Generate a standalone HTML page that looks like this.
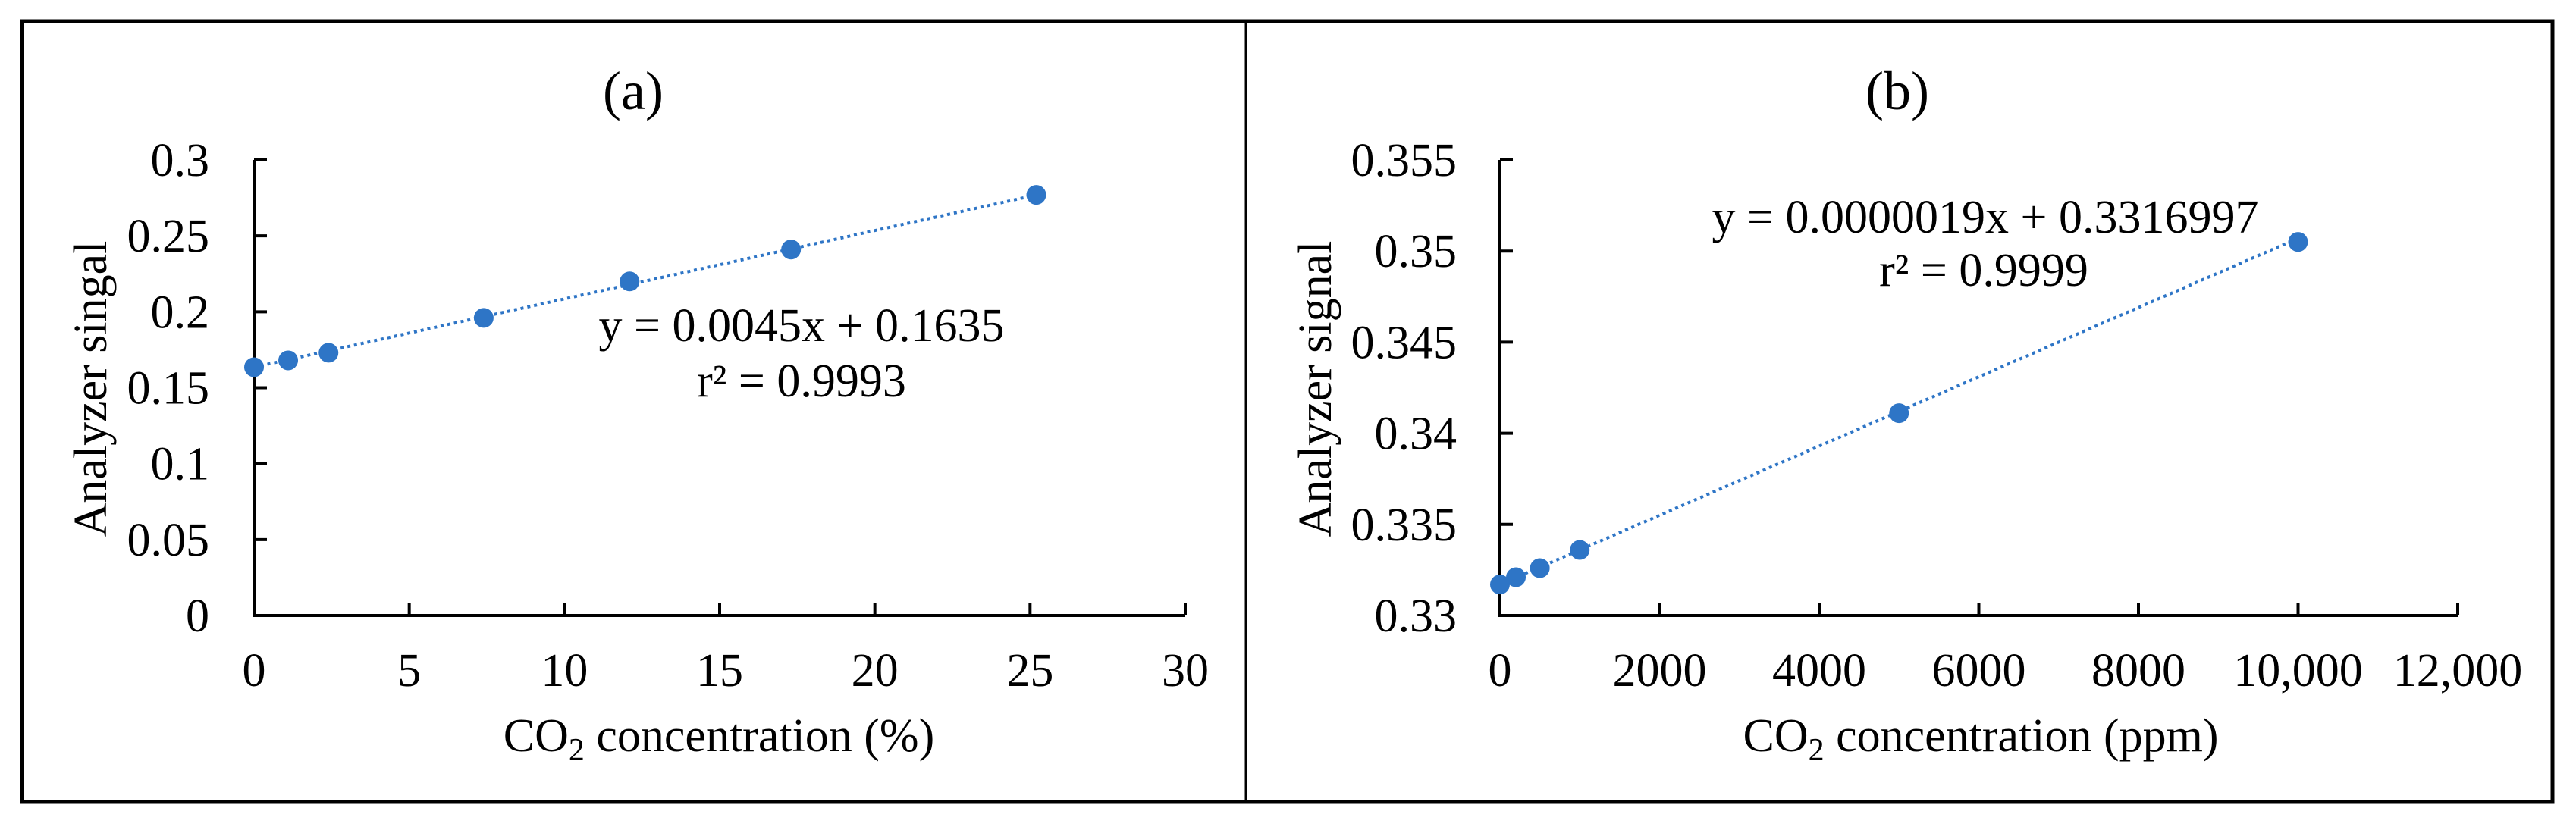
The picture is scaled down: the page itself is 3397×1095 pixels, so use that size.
<!DOCTYPE html>
<html><head><meta charset="utf-8"><style>
html,body{margin:0;padding:0;background:#fff;}
svg{display:block;font-family:"Liberation Serif",serif;}
</style></head><body>
<svg id="fig" width="3397" height="1095" viewBox="0 0 3397 1095" xmlns="http://www.w3.org/2000/svg">
<rect x="29" y="28" width="3337" height="1030" fill="none" stroke="#000" stroke-width="5"/>
<line x1="1643" y1="28" x2="1643" y2="1058" stroke="#000" stroke-width="3"/>
<g id="pa"></g>
<g id="pb"></g>
<g font-family="Liberation Serif, serif" fill="#000">
<text x="835" y="144" text-anchor="middle" font-size="72">(a)</text>
<text x="2502" y="144" text-anchor="middle" font-size="72">(b)</text>
<text x="948" y="991" text-anchor="middle" font-size="62">CO<tspan font-size="42" dy="12">2</tspan><tspan dy="-12"> concentration (%)</tspan></text>
<text x="2612" y="991" text-anchor="middle" font-size="62">CO<tspan font-size="42" dy="12">2</tspan><tspan dy="-12"> concentration (ppm)</tspan></text>
<text transform="translate(140,513) rotate(-90)" text-anchor="middle" font-size="62">Analyzer singal</text>
<text transform="translate(1755,513) rotate(-90)" text-anchor="middle" font-size="62">Analyzer signal</text>
<text x="1057" y="450" text-anchor="middle" font-size="62">y = 0.0045x + 0.1635</text>
<text x="1057" y="523" text-anchor="middle" font-size="62">r² = 0.9993</text>
<text x="2618" y="307" text-anchor="middle" font-size="62">y = 0.0000019x + 0.3316997</text>
<text x="2616" y="377" text-anchor="middle" font-size="62">r² = 0.9999</text>
</g>
</svg>
<script>
const aX = [0, 1.1, 2.4, 7.4, 12.1, 17.3, 25.2];
const aY = [0.1635, 0.168, 0.173, 0.196, 0.220, 0.241, 0.277];
const aXTicks = [0, 5, 10, 15, 20, 25, 30];
const aXTickLabels = ["0","5","10","15","20","25","30"];
const aYTicks = [0, 0.05, 0.1, 0.15, 0.2, 0.25, 0.3];
const aYTickLabels = ["0","0.05","0.1","0.15","0.2","0.25","0.3"];
const aFit = [0.0045, 0.1635];

const bX = [0, 200, 500, 1000, 5000, 10000];
const bY = [0.3317, 0.3321, 0.3326, 0.3336, 0.3411, 0.3505];
const bXTicks = [0, 2000, 4000, 6000, 8000, 10000, 12000];
const bXTickLabels = ["0","2000","4000","6000","8000","10,000","12,000"];
const bYTicks = [0.33, 0.335, 0.34, 0.345, 0.35, 0.355];
const bYTickLabels = ["0.33","0.335","0.34","0.345","0.35","0.355"];
const bFit = [0.0000019, 0.3316997];

const NS = "http://www.w3.org/2000/svg";
function mk(parent, tag, attrs, text){
  const e = document.createElementNS(NS, tag);
  for (const k in attrs) e.setAttribute(k, attrs[k]);
  if (text !== undefined) e.textContent = text;
  parent.appendChild(e);
  return e;
}
function drawPanel(g, cfg){
  const sx = v => cfg.x0 + (v - cfg.xmin) / (cfg.xmax - cfg.xmin) * (cfg.x1 - cfg.x0);
  const sy = v => cfg.y0 - (v - cfg.ymin) / (cfg.ymax - cfg.ymin) * (cfg.y0 - cfg.y1);
  const ax = mk(g, "path", {d:`M${cfg.x0},${cfg.y1} V${cfg.y0} H${cfg.x1}`, fill:"none", stroke:"#000", "stroke-width":4});
  
  
  cfg.yt.forEach((v,i)=>{
    const y = sy(v);
    const t = mk(g, "line", {x1:cfg.x0, y1:y, x2:cfg.x0+17, y2:y, stroke:"#000", "stroke-width":4});
    
    
    const l = mk(g, "text", {x:cfg.ylabX, y:y+21, "text-anchor":"end", "font-size":62}, cfg.ytl[i]);
    
    
  });
  cfg.xt.forEach((v,i)=>{
    const x = sx(v);
    if (i>0){
      const t = mk(g, "line", {x1:x, y1:cfg.y0, x2:x, y2:cfg.y0-17, stroke:"#000", "stroke-width":4});
      
      
    }
    const l = mk(g, "text", {x:x, y:905, "text-anchor":"middle", "font-size":62}, cfg.xtl[i]);
    
    
  });
  const xa = Math.min(...cfg.xs), xb = Math.max(...cfg.xs);
  const tr = mk(g, "line", {x1:sx(xa), y1:sy(cfg.fit[0]*xa+cfg.fit[1]), x2:sx(xb), y2:sy(cfg.fit[0]*xb+cfg.fit[1]), stroke:"#2e75c6", "stroke-width":4, "stroke-dasharray":"4 5"});
  
  
  cfg.xs.forEach((v,i)=>{
    const c = mk(g, "circle", {cx:sx(v), cy:sy(cfg.ys[i]), r:13, fill:"#2e75c6"});
    
    
  });
}
const pa = document.getElementById("pa"), pb = document.getElementById("pb");
drawPanel(pa, {x0:335,x1:1563,y0:812,y1:211,xmin:0,xmax:30,ymin:0,ymax:0.3,xt:aXTicks,xtl:aXTickLabels,yt:aYTicks,ytl:aYTickLabels,xs:aX,ys:aY,fit:aFit,ylabX:276});
drawPanel(pb, {x0:1978,x1:3241,y0:812,y1:211,xmin:0,xmax:12000,ymin:0.33,ymax:0.355,xt:bXTicks,xtl:bXTickLabels,yt:bYTicks,ytl:bYTickLabels,xs:bX,ys:bY,fit:bFit,ylabX:1921});
</script>
</body></html>
